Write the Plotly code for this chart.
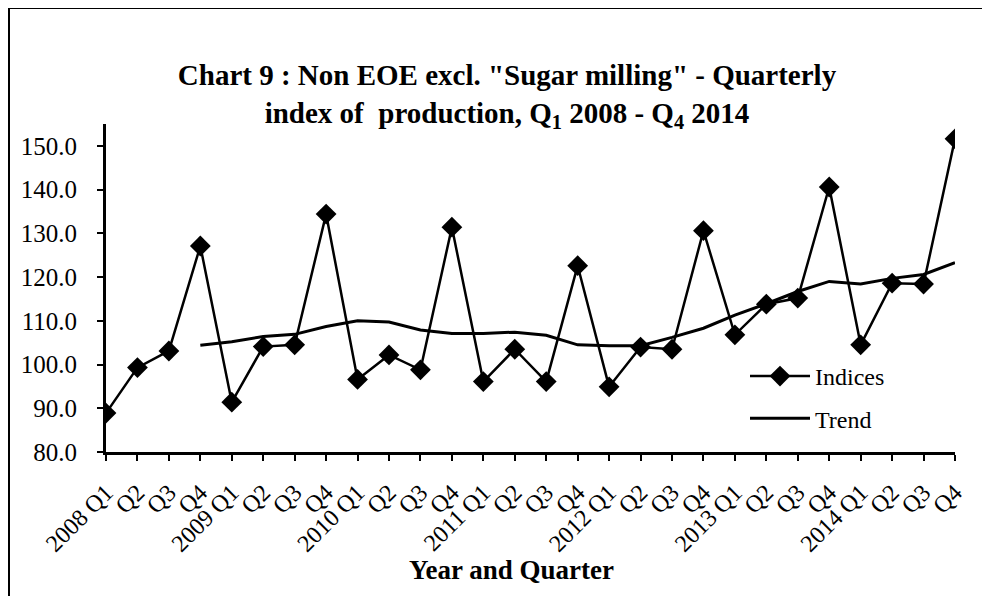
import plotly.graph_objects as go

years = ["2008", "2009", "2010", "2011", "2012", "2013", "2014"]
quarters = ["Q1", "Q2", "Q3", "Q4"]
tick_labels = [(y + " " + q) if q == "Q1" else q for y in years for q in quarters]

indices = [88.9, 99.3, 103.1, 127.1,
           91.4, 104.1, 104.5, 134.4,
           96.6, 102.2, 98.8, 131.4,
           96.1, 103.5, 96.1, 122.6,
           94.9, 104.0, 103.5, 130.6,
           106.8, 113.8, 115.2, 140.6,
           104.5, 118.6, 118.4, 151.6]
trend = [None, None, None, 104.4,
         105.2, 106.4, 106.9, 108.7,
         110.0, 109.7, 107.9, 107.1,
         107.1, 107.4, 106.7, 104.5,
         104.3, 104.3, 106.2, 108.3,
         111.3, 113.9, 116.7, 119.0,
         118.4, 119.7, 120.6, 123.3]

xpos = list(range(len(tick_labels)))
FONT = "Liberation Serif"

OFF = 8
W, H = 982, 588
ML, MR, MT, MB = 106 - OFF, 35, 124 - OFF, 144
PW, PH = W - ML - MR, H - MT - MB

def px_to_paper_x(px):
    return (px - OFF - ML) / PW

def px_to_paper_y(py):
    return (H - MB - (py - OFF)) / PH

fig = go.Figure()
fig.add_trace(go.Scatter(
    x=xpos, y=indices, name="Indices", mode="lines+markers",
    line=dict(color="black", width=2.5),
    marker=dict(symbol="diamond", size=16, color="black"),
    legendgroup="a",
))
fig.add_trace(go.Scatter(
    x=xpos, y=trend, name="Trend", mode="lines",
    line=dict(color="black", width=3),
    legendgroup="b",
))

fig.update_layout(
    width=W, height=H,
    margin=dict(l=ML, r=MR, t=MT, b=MB),
    paper_bgcolor="white", plot_bgcolor="white",
    font=dict(family=FONT, color="black", size=24),
    title=dict(
        text="<b>Chart 9 : Non EOE excl. \"Sugar milling\" - Quarterly<br>"
             "index of  production, Q<sub>1</sub> 2008 - Q<sub>4</sub> 2014</b>",
        x=(507 - OFF) / W, xanchor="center", y=1 - (85 - OFF) / H, yanchor="top",
        font=dict(family=FONT, size=29, color="black"),
    ),
    xaxis=dict(
        range=[0, 27], tickvals=xpos, ticktext=tick_labels, tickangle=-45,
        showline=True, linecolor="black", linewidth=3,
        ticks="outside", ticklen=6, tickwidth=2, tickcolor="black",
        showgrid=False, zeroline=False, ticklabelstandoff=8,
        tickfont=dict(family=FONT, size=24),
    ),
    yaxis=dict(
        range=[80, 155], tick0=80, dtick=10, tickformat=".1f",
        showline=True, linecolor="black", linewidth=3,
        ticks="outside", ticklen=6, tickwidth=2, tickcolor="black",
        showgrid=False, zeroline=False, ticklabelstandoff=15,
        tickfont=dict(family=FONT, size=25),
    ),
    legend=dict(
        x=px_to_paper_x(745), y=px_to_paper_y(354), xanchor="left", yanchor="top",
        bgcolor="rgba(0,0,0,0)", font=dict(family=FONT, size=24),
        traceorder="grouped", tracegroupgap=8, itemwidth=60,
    ),
    showlegend=True,
)

fig.add_annotation(
    text="<b>Year and Quarter</b>", xref="paper", yref="paper",
    x=px_to_paper_x(511), y=px_to_paper_y(570), xanchor="center", yanchor="middle",
    showarrow=False, font=dict(family=FONT, size=27, color="black"),
)

fig.add_shape(
    type="rect", xref="paper", yref="paper",
    x0=px_to_paper_x(9), x1=px_to_paper_x(1010),
    y0=px_to_paper_y(620), y1=px_to_paper_y(8),
    line=dict(color="black", width=2), fillcolor="rgba(0,0,0,0)", layer="below",
)

fig.write_html("out.html")
